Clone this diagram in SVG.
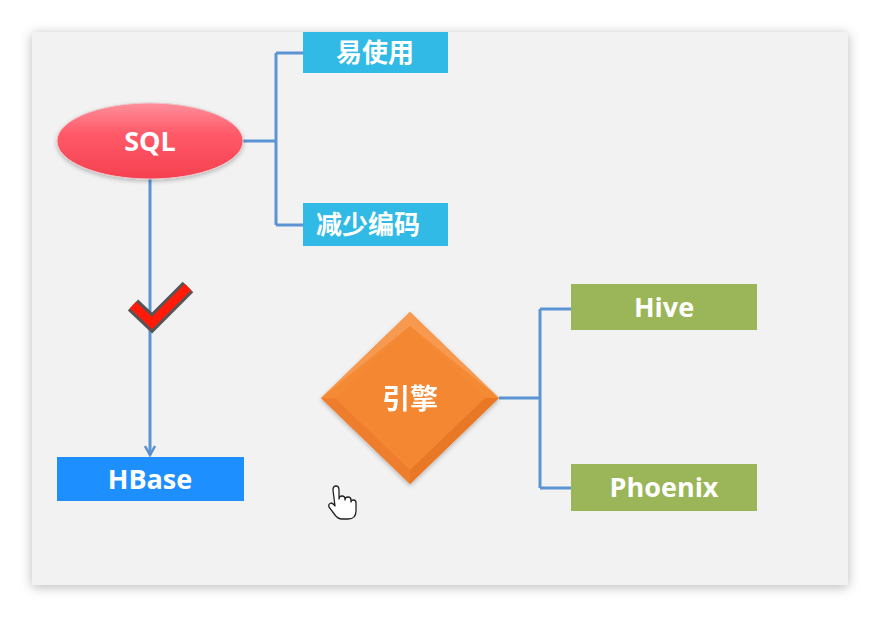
<svg xmlns="http://www.w3.org/2000/svg" width="880" height="617" viewBox="0 0 880 617">
<defs>
<filter id="sh" x="-10%" y="-10%" width="120%" height="120%">
<feDropShadow dx="0" dy="2" stdDeviation="6" flood-color="#000" flood-opacity="0.28"/>
</filter>
<filter id="nsh" x="-10%" y="-10%" width="120%" height="130%">
<feDropShadow dx="0" dy="2" stdDeviation="2" flood-color="#000" flood-opacity="0.25"/>
</filter>
<linearGradient id="red" x1="0" y1="0" x2="0" y2="1">
<stop offset="0" stop-color="#FF8F9C"/>
<stop offset="0.4" stop-color="#FF5A69"/>
<stop offset="1" stop-color="#F5404F"/>
</linearGradient>
<marker id="arr" viewBox="0 0 12 12" refX="10" refY="6" markerWidth="12" markerHeight="12" markerUnits="userSpaceOnUse" orient="auto">
<path d="M1,1 L10,6 L1,11" fill="none" stroke="#5B8FD0" stroke-width="2.5"/>
</marker>
<style>
.bg{fill:#F2F2F2}
.ln{fill:none;stroke:#5B93D3;stroke-width:3}
.lat{font-family:"Open Sans","Liberation Sans",sans-serif;font-weight:bold;fill:#fff;text-anchor:middle}
.cjk{font-family:"Noto Sans CJK SC","Noto Sans",sans-serif;font-weight:bold;fill:#fff;text-anchor:middle}
</style>
</defs>
<rect width="880" height="617" fill="#fff"/>
<rect class="bg" x="32" y="32" width="816" height="553" filter="url(#sh)"/>

<g id="connectors">
<path class="ln" d="M243,141 H276 M276,53 V225 M276,53 H303 M276,225 H303"/>
<path class="ln" d="M150,179 V455" marker-end="url(#arr)"/>
<path class="ln" d="M499,398 H540 M540,309 V488 M540,309 H571 M540,488 H571"/>
</g>

<g id="sql">
<ellipse cx="150" cy="141" rx="93" ry="38" fill="url(#red)" stroke="#E8C8CC" stroke-width="1" filter="url(#nsh)"/>
<text class="lat" x="150" y="151" font-size="27">SQL</text>
</g>

<g id="easy">
<rect x="303" y="32" width="145" height="41" fill="#31BAE6"/>
<text class="cjk" x="375" y="62" font-size="26">易使用</text>
</g>

<g id="less">
<rect x="303" y="203" width="145" height="43" fill="#31BAE6"/>
<text class="cjk" x="368" y="234" font-size="26">减少编码</text>
</g>

<g id="check">
<polyline points="133,305 152,323 188,287" fill="none" stroke="#555" stroke-width="15" stroke-linejoin="miter"/>
<polyline points="133,305 152,323 188,287" fill="none" stroke="#FF1A0A" stroke-width="9" stroke-linejoin="miter"/>
</g>

<g id="hbase">
<rect x="57" y="457" width="187" height="44" fill="#1E8FFF"/>
<text class="lat" x="150" y="489" font-size="27">HBase</text>
</g>

<g id="engine" filter="url(#nsh)">
<polygon points="410,312 499,398 410,484 321,398" fill="#F58A36"/>
<polygon points="410,312 499,398 410,326 321,398" fill="#F79A50"/>
<polygon points="410,326 485,398 410,470 335,398" fill="#F48733"/>
<polygon points="321,398 335,398 410,470 410,484" fill="#EE7E2E"/>
<polygon points="499,398 485,398 410,470 410,484" fill="#E87828"/>
<text class="cjk" x="410" y="409" font-size="28">引擎</text>
</g>

<g id="hive">
<rect x="571" y="284" width="186" height="46" fill="#9BB559"/>
<text class="lat" x="664" y="317" font-size="27">Hive</text>
</g>

<g id="phoenix">
<rect x="571" y="464" width="186" height="47" fill="#9BB559"/>
<text class="lat" x="664" y="497" font-size="27">Phoenix</text>
</g>

<g id="cursor">
<path d="M333,490 q0,-4 3,-4 q3,0 3,4 v9 q0,-3 3,-3 q3,0 3,3 v1 q0,-3 3,-3 q3,0 3,3 v2 q0,-2 2.5,-2 q2.5,0 2.5,3 v8 q0,8 -8,8 h-6 q-4,0 -7,-4 l-6,-8 q-1,-3 2,-4 q2,0 4,3 z" fill="#fff" stroke="#222" stroke-width="1.3" stroke-linejoin="round"/>
</g>
</svg>
